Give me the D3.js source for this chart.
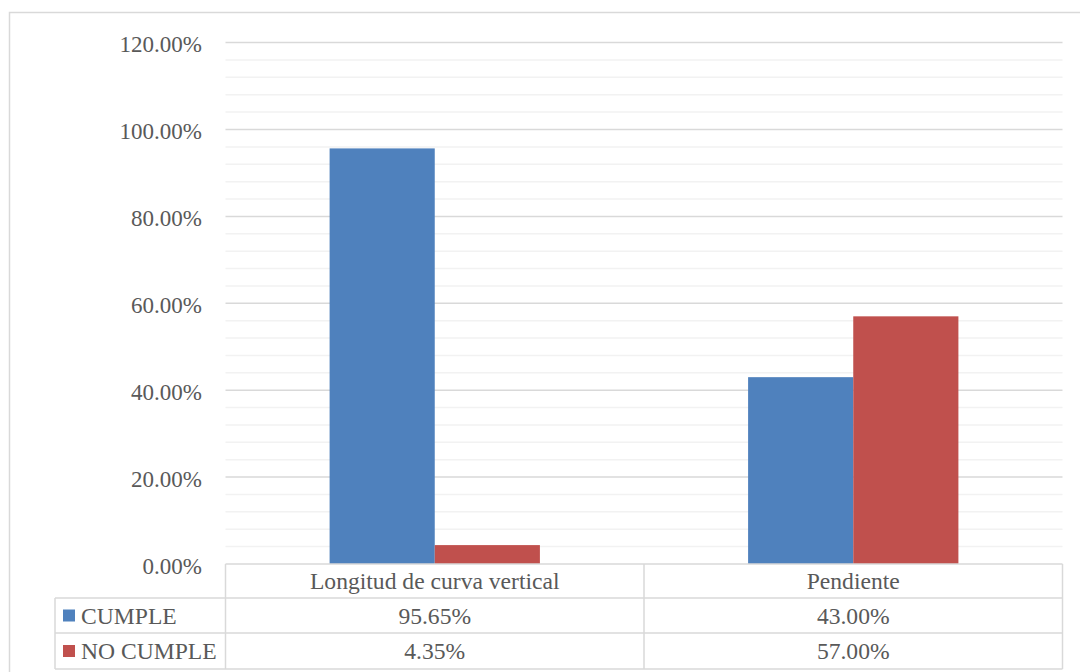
<!DOCTYPE html>
<html>
<head>
<meta charset="utf-8">
<script src="https://cdn.jsdelivr.net/npm/d3@7"></script>
</head>
<body style="margin:0">
<svg id="chart" width="1080" height="672"></svg>
<script>
// Chart data
const categories = ["Longitud de curva vertical", "Pendiente"];
const seriesNames = ["CUMPLE", "NO CUMPLE"];
const cumple = [0.9565, 0.43];
const noCumple = [0.0435, 0.57];
const seriesColors = ["#4F81BD", "#C0504D"];
const yTicks = [0, 0.2, 0.4, 0.6, 0.8, 1.0, 1.2];

const seriesValues = [cumple, noCumple];

const FONT = '"Liberation Serif"';
const axisFontSize = "23px";
const tableFontSize = "23.6px";
const textColor = "#595959";

const svg = d3.select("#chart");

// Layout
const plot = { left: 225.5, right: 1062.5, top: 42.6, bottom: 564 };
const table = { left: 55, rowTops: [564, 598, 633, 669] };

// Outer frame
svg.append("rect")
  .attr("x", 9.5).attr("y", 12.5)
  .attr("width", 1200).attr("height", 800)
  .attr("fill", "none").attr("stroke", "#D9D9D9").attr("stroke-width", 1.5);

const x = d3.scaleBand().domain(categories).range([plot.left, plot.right]).paddingInner(0).paddingOuter(0);
const xInner = d3.scaleBand().domain(seriesNames).range([0, x.bandwidth()]).paddingInner(0).paddingOuter(0.99);
const y = d3.scaleLinear().domain([0, 1.2]).range([plot.bottom, plot.top]);

// Minor gridlines every 4%
const minor = d3.range(0, 1.2001, 0.04).filter(v => !yTicks.some(t => Math.abs(t - v) < 1e-6));
svg.append("g").selectAll("line").data(minor).join("line")
  .attr("x1", plot.left).attr("x2", plot.right)
  .attr("y1", d => y(d)).attr("y2", d => y(d))
  .attr("stroke", "#F2F2F2").attr("stroke-width", 1.5);

// Major gridlines
svg.append("g").selectAll("line").data(yTicks.filter(t => t > 0)).join("line")
  .attr("x1", plot.left).attr("x2", plot.right)
  .attr("y1", d => y(d)).attr("y2", d => y(d))
  .attr("stroke", "#D9D9D9").attr("stroke-width", 1.5);

// Y axis labels
const fmt = d3.format(".2%");
svg.append("g").selectAll("text").data(yTicks).join("text")
  .attr("x", 202)
  .attr("y", d => y(d))
  .attr("dy", "0.42em")
  .attr("text-anchor", "end")
  .style("font-family", FONT)
  .style("font-size", axisFontSize)
  .style("fill", textColor)
  .text(d => fmt(d));

// Bars
const groups = svg.append("g").selectAll("g").data(categories).join("g")
  .attr("transform", d => `translate(${x(d)},0)`);
groups.selectAll("rect")
  .data((c, i) => seriesNames.map((s, j) => ({ s, v: seriesValues[j][i], j })))
  .join("rect")
  .attr("x", d => xInner(d.s))
  .attr("width", xInner.bandwidth())
  .attr("y", d => y(d.v))
  .attr("height", d => y(0) - y(d.v))
  .attr("fill", d => seriesColors[d.j]);

// Data table
const tbl = svg.append("g");
const lineStyle = sel => sel.attr("stroke", "#D9D9D9").attr("stroke-width", 1.5).attr("fill", "none");
const textStyle = sel => sel.style("font-family", FONT).style("font-size", tableFontSize).style("fill", textColor);
const rt = table.rowTops;
// horizontal lines
tbl.append("line").attr("x1", plot.left).attr("x2", plot.right).attr("y1", rt[0]).attr("y2", rt[0]).call(lineStyle);
[rt[1], rt[2], rt[3]].forEach(yy => {
  tbl.append("line").attr("x1", table.left).attr("x2", plot.right).attr("y1", yy).attr("y2", yy).call(lineStyle);
});
// vertical lines
tbl.append("line").attr("x1", table.left).attr("x2", table.left).attr("y1", rt[1]).attr("y2", rt[3]).call(lineStyle);
const colEdges = [plot.left, ...categories.map(c => x(c) + x.bandwidth())];
colEdges.forEach(xx => {
  tbl.append("line").attr("x1", xx).attr("x2", xx).attr("y1", rt[0]).attr("y2", rt[3]).call(lineStyle);
});

// header row
tbl.selectAll("text.cat").data(categories).join("text")
  .attr("class", "cat")
  .attr("x", d => x(d) + x.bandwidth() / 2)
  .attr("y", (rt[0] + rt[1]) / 2)
  .attr("dy", "0.35em")
  .attr("text-anchor", "middle")
  .call(textStyle)
  .text(d => d);

// series rows
seriesNames.forEach((s, j) => {
  const cy = (rt[j + 1] + rt[j + 2]) / 2;
  tbl.append("rect")
    .attr("x", 63).attr("y", cy - 6)
    .attr("width", 12).attr("height", 12)
    .attr("fill", seriesColors[j]);
  tbl.append("text")
    .attr("x", 81).attr("y", cy).attr("dy", "0.35em")
    .call(textStyle)
    .text(s);
  tbl.selectAll(null).data(categories).join("text")
    .attr("x", d => x(d) + x.bandwidth() / 2)
    .attr("y", cy).attr("dy", "0.35em")
    .attr("text-anchor", "middle")
    .call(textStyle)
    .text((d, i) => fmt(seriesValues[j][i]));
});
</script>
</body>
</html>
